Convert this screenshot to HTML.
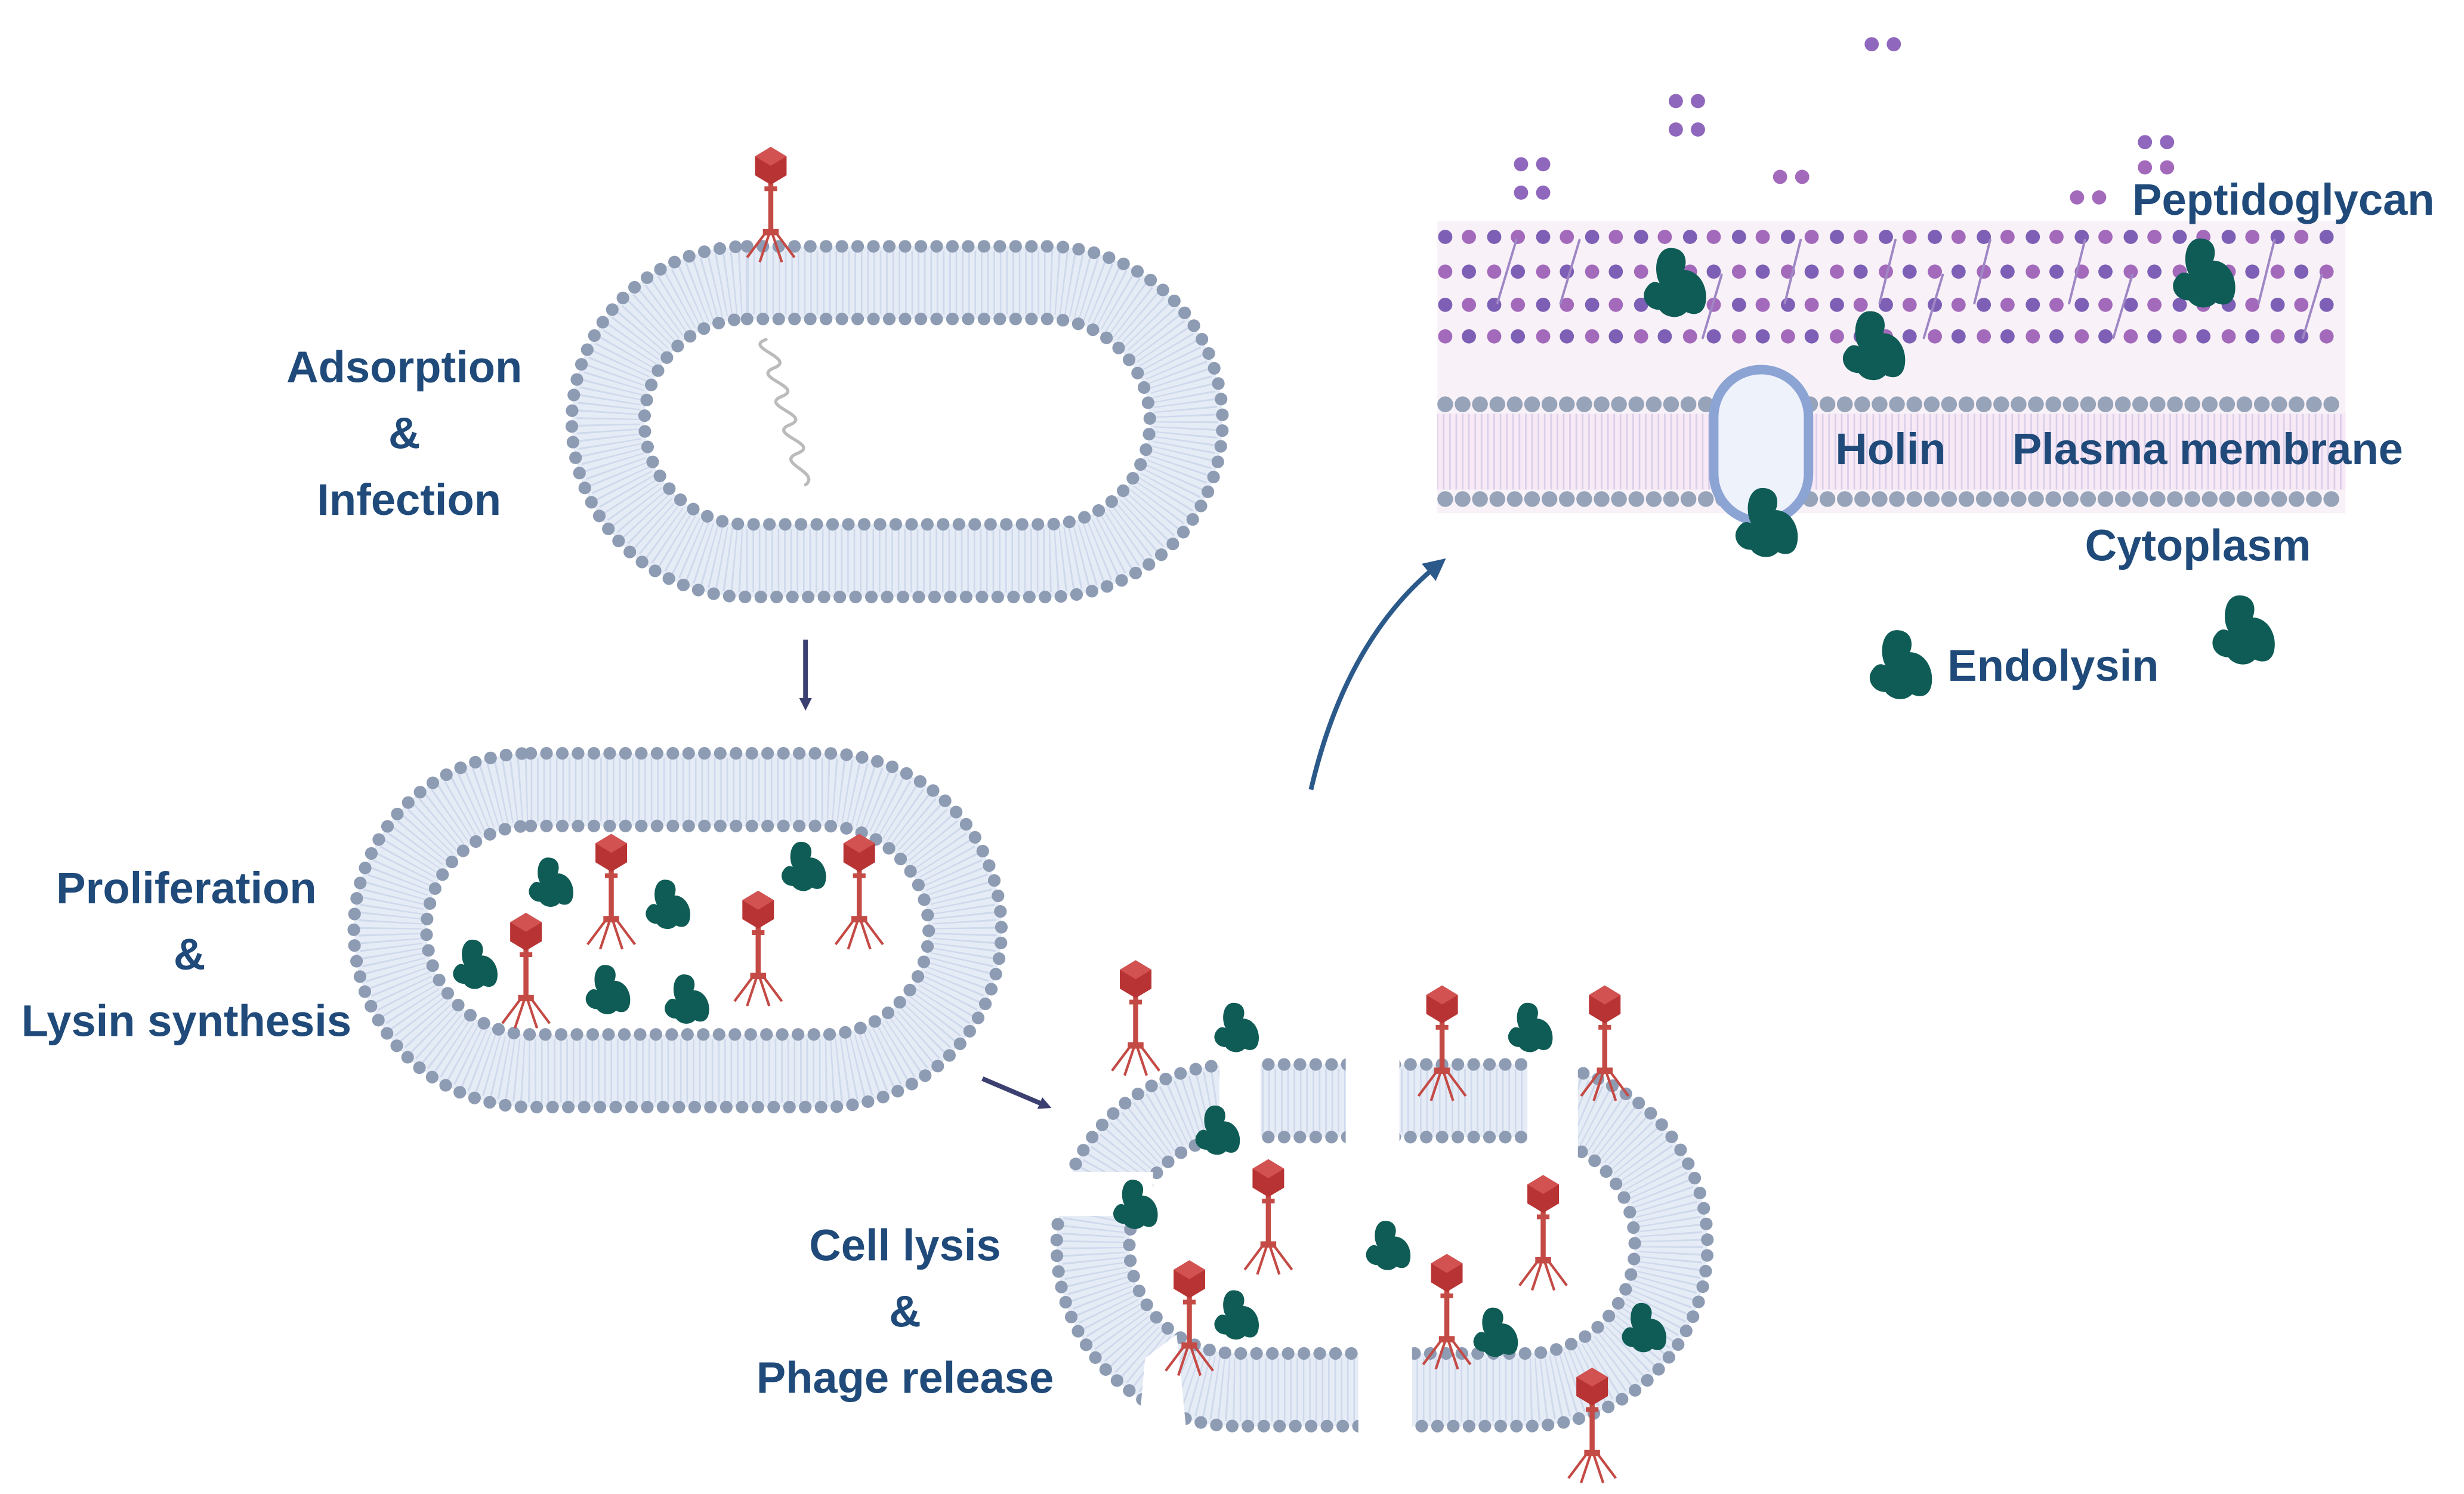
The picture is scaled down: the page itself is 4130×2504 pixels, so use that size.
<!DOCTYPE html>
<html><head><meta charset="utf-8"><style>html,body{margin:0;padding:0;background:#fff}svg{display:block}</style></head>
<body>
<svg width="4130" height="2504" viewBox="0 0 1560 946" preserveAspectRatio="none" xmlns="http://www.w3.org/2000/svg">
<defs>
<symbol id="ph" overflow="visible">
<rect x="-1.6" y="9" width="3.2" height="34" fill="#c44a45"/>
<rect x="-4" y="13" width="8" height="3" fill="#c44a45"/>
<rect x="-5" y="40" width="10" height="4" fill="#c44a45"/>
<path d="M-3,42 L-15,58 M-1,43 L-7,61 M1,43 L7,61 M3,42 L15,58" stroke="#c44a45" stroke-width="1.6" fill="none"/>
<polygon points="0,-12 10,-6 10,6 0,12 -10,6 -10,-6" fill="#b83333"/>
<polygon points="0,-12 10,-6 0,0 -10,-6" fill="#d25252"/>
</symbol>
<symbol id="en" overflow="visible">
<path d="M-3,-15 c6,0 8,5 6,10 c6,0 10,6 10,12 c0,8 -5,9 -9,7 c-4,4 -10,2 -12,-1 c-6,0 -9,-6 -6,-10 c2,-3 4,-3 6,-2 c-3,-5 -2,-16 5,-16z" fill="#0f5c56"/>
</symbol>
<pattern id="ptail" width="4" height="10" patternUnits="userSpaceOnUse"><rect width="4" height="10" fill="#f8e9f6"/><rect x="1.5" width="1" height="10" fill="#d9cfe8"/></pattern>
<marker id="ah" markerWidth="8" markerHeight="8" refX="4" refY="4" orient="auto" markerUnits="userSpaceOnUse"><path d="M0,0 L8,4 L0,8z" fill="#3c4070"/></marker>
<marker id="ah2" markerWidth="14" markerHeight="14" refX="7" refY="7" orient="auto" markerUnits="userSpaceOnUse"><path d="M0,0 L14,7 L0,14z" fill="#2b5a8a"/></marker>
</defs>
<g fill="none" stroke-linecap="round">
<rect x="385" y="179" width="366" height="176" rx="88" stroke="#e6ecf6" stroke-width="46"/>
<rect x="385" y="179" width="366" height="176" rx="88" stroke="#cfd9ec" stroke-width="40" stroke-dasharray="1 3" stroke-linecap="butt"/>
<rect x="362" y="156" width="412" height="222" rx="111" stroke="#8d9bb3" stroke-width="8" stroke-dasharray="0 10"/>
<rect x="408" y="202" width="320" height="130" rx="65" stroke="#8d9bb3" stroke-width="8" stroke-dasharray="0 10"/>
<path d="M485,215 c-15,5 20,12 5,18 c-15,6 20,12 5,18 c-15,6 20,12 5,18 c-15,6 20,12 5,18 c-15,6 15,12 5,20" stroke="#bbb" stroke-width="2"/>
<rect x="247" y="500" width="364" height="178" rx="89" stroke="#e6ecf6" stroke-width="46"/>
<rect x="247" y="500" width="364" height="178" rx="89" stroke="#cfd9ec" stroke-width="40" stroke-dasharray="1 3" stroke-linecap="butt"/>
<rect x="224" y="477" width="410" height="224" rx="112" stroke="#8d9bb3" stroke-width="8" stroke-dasharray="0 10"/>
<rect x="270" y="523" width="318" height="132" rx="66" stroke="#8d9bb3" stroke-width="8" stroke-dasharray="0 10"/>
<rect x="692" y="697" width="366" height="183" rx="91" stroke="#e6ecf6" stroke-width="46"/>
<rect x="692" y="697" width="366" height="183" rx="91" stroke="#cfd9ec" stroke-width="40" stroke-dasharray="1 3" stroke-linecap="butt"/>
<rect x="669" y="674" width="412" height="229" rx="114" stroke="#8d9bb3" stroke-width="8" stroke-dasharray="0 10"/>
<rect x="715" y="720" width="320" height="137" rx="68" stroke="#8d9bb3" stroke-width="8" stroke-dasharray="0 10"/>
</g>
<g fill="#fff">
<rect x="772" y="660" width="26" height="70"/>
<rect x="852" y="660" width="34" height="70"/>
<rect x="967" y="660" width="32" height="80"/>
<polygon points="655,742 730,742 730,770 655,770"/>
<rect x="860" y="840" width="34" height="75"/>
<polygon points="725,860 745,845 752,915 720,915"/>
</g>
<rect x="910" y="140" width="575" height="185" fill="#f8f2f8"/>
<rect x="910" y="262" width="575" height="48" fill="url(#ptail)"/>
<g fill="none" stroke-linecap="round">
<line x1="915" y1="256" x2="1480" y2="256" stroke="#96a3b8" stroke-width="10" stroke-dasharray="0 11"/>
<line x1="915" y1="316" x2="1480" y2="316" stroke="#96a3b8" stroke-width="10" stroke-dasharray="0 11"/>
<g stroke-width="9" stroke-dasharray="0 31">
<line x1="915" y1="150" x2="1480" y2="150" stroke="#7d5fb5"/><line x1="930" y1="150" x2="1480" y2="150" stroke="#a36abb"/>
<line x1="915" y1="172" x2="1480" y2="172" stroke="#a36abb"/><line x1="930" y1="172" x2="1480" y2="172" stroke="#7d5fb5"/>
<line x1="915" y1="193" x2="1480" y2="193" stroke="#7d5fb5"/><line x1="930" y1="193" x2="1480" y2="193" stroke="#a36abb"/>
<line x1="915" y1="213" x2="1480" y2="213" stroke="#a36abb"/><line x1="930" y1="213" x2="1480" y2="213" stroke="#7d5fb5"/>
</g>
<g stroke="#9f86c4" stroke-width="1.5">
<path d="M960,152 l-12,40 M1000,152 l-12,40 M1140,152 l-10,40 M1200,152 l-10,40 M1260,152 l-10,40 M1320,152 l-10,40 M1440,152 l-10,40 M1090,174 l-12,40 M1230,174 l-12,40 M1350,174 l-12,40 M1470,174 l-12,40"/>
</g>
<g stroke-width="9" stroke-dasharray="0 14">
<line x1="963" y1="104" x2="980" y2="104" stroke="#8f67bc"/><line x1="963" y1="122" x2="980" y2="122" stroke="#8f67bc"/>
<line x1="1061" y1="64" x2="1078" y2="64" stroke="#8f67bc"/><line x1="1061" y1="82" x2="1078" y2="82" stroke="#8f67bc"/>
<line x1="1127" y1="112" x2="1144" y2="112" stroke="#a36abb"/><line x1="1185" y1="28" x2="1202" y2="28" stroke="#8f67bc"/>
<line x1="1358" y1="90" x2="1375" y2="90" stroke="#8f67bc"/><line x1="1358" y1="106" x2="1375" y2="106" stroke="#a36abb"/>
<line x1="1315" y1="125" x2="1332" y2="125" stroke="#a36abb"/>
</g>
</g>
<rect x="1085" y="234" width="60" height="96" rx="30" fill="#eef2fb" stroke="#8ca4d4" stroke-width="6"/>
<line x1="510" y1="405" x2="510" y2="446" stroke="#3c4070" stroke-width="3" marker-end="url(#ah)"/>
<line x1="622" y1="683" x2="662" y2="700" stroke="#3c4070" stroke-width="3" marker-end="url(#ah)"/>
<path d="M830,500 Q852,405 910,358" fill="none" stroke="#2b5a8a" stroke-width="3" marker-end="url(#ah2)"/>
<g>
<use href="#ph" x="488" y="105"/>
<use href="#ph" x="387" y="540"/><use href="#ph" x="333" y="590"/><use href="#ph" x="480" y="576"/><use href="#ph" x="544" y="540"/>
<use href="#ph" x="719" y="620"/><use href="#ph" x="913" y="636"/><use href="#ph" x="1016" y="636"/><use href="#ph" x="803" y="746"/>
<use href="#ph" x="977" y="756"/><use href="#ph" x="753" y="810"/><use href="#ph" x="916" y="806"/><use href="#ph" x="1008" y="878"/>
</g>
<g>
<use href="#en" x="350" y="558"/><use href="#en" x="424" y="572"/><use href="#en" x="510" y="548"/><use href="#en" x="302" y="610"/><use href="#en" x="386" y="626"/><use href="#en" x="436" y="632"/>
<use href="#en" x="784" y="650"/><use href="#en" x="970" y="650"/><use href="#en" x="772" y="715"/><use href="#en" x="720" y="762"/><use href="#en" x="880" y="788"/><use href="#en" x="784" y="832"/><use href="#en" x="948" y="843"/><use href="#en" x="1042" y="840"/>
<use href="#en" x="1062" y="178" transform="translate(1062 178) scale(1.4) translate(-1062 -178)"/>
<use href="#en" x="1397" y="172" transform="translate(1397 172) scale(1.4) translate(-1397 -172)"/>
<use href="#en" x="1188" y="218" transform="translate(1188 218) scale(1.4) translate(-1188 -218)"/>
<use href="#en" x="1120" y="330" transform="translate(1120 330) scale(1.4) translate(-1120 -330)"/>
<use href="#en" x="1205" y="420" transform="translate(1205 420) scale(1.4) translate(-1205 -420)"/>
<use href="#en" x="1422" y="398" transform="translate(1422 398) scale(1.4) translate(-1422 -398)"/>
</g>
<g font-family="Liberation Sans, sans-serif" font-weight="bold" font-size="28" fill="#1f4a7a">
<g text-anchor="middle">
<text x="256" y="242">Adsorption</text><text x="256" y="284">&amp;</text><text x="259" y="326">Infection</text>
<text x="118" y="572">Proliferation</text><text x="120" y="614">&amp;</text><text x="118" y="656">Lysin synthesis</text>
<text x="573" y="798">Cell lysis</text><text x="573" y="840">&amp;</text><text x="573" y="882">Phage release</text>
</g>
<text x="1350" y="136">Peptidoglycan</text>
<text x="1162" y="294">Holin</text>
<text x="1274" y="294">Plasma membrane</text>
<text x="1320" y="355">Cytoplasm</text>
<text x="1233" y="431">Endolysin</text>
</g>
</svg>
</body></html>
